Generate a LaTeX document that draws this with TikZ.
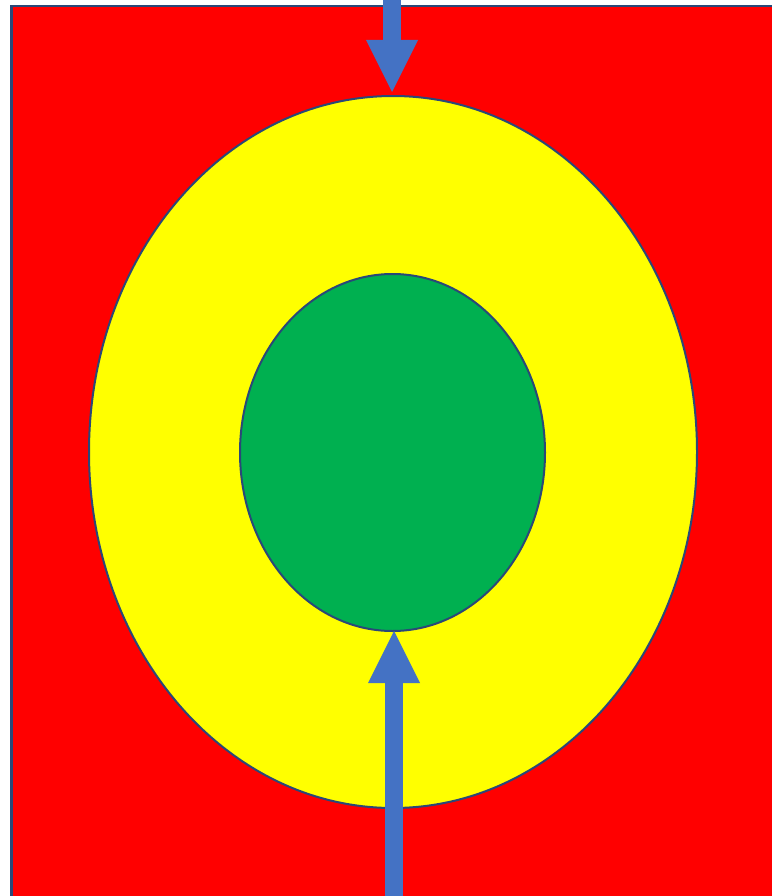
\documentclass[tikz,border=0pt]{standalone}
\usepackage{tikz}
\usetikzlibrary{positioning,arrows.meta,calc,shapes.geometric}
\usepackage{xcolor}

\definecolor{bgred}{HTML}{FF0000}
\definecolor{ringyellow}{HTML}{FFFF00}
\definecolor{coregreen}{HTML}{00B050}
\definecolor{arrowblue}{HTML}{4472C4}
\definecolor{edgeblue}{HTML}{2A4878}

\tikzset{
  layer/.style={ellipse,draw=edgeblue,line width=2pt,inner sep=0pt,outer sep=0pt},
  pusharrow/.style={arrowblue,line width=17.5pt,
    -{Triangle[length=52pt,width=52pt,line width=0pt]}}
}

\begin{document}
\begin{tikzpicture}[x=1pt,y=-1pt]
  \useasboundingbox (0,0) rectangle (772,896);
  % background panel, its frame shows on the left and top only
  \fill[bgred] (11.5,6.2) rectangle (772,896);
  \draw[draw=edgeblue,line width=2.5pt] (11.5,896) -- (11.5,6.2) -- (772,6.2);
  % the two layers
  \node[layer,fill=ringyellow,minimum width=608pt,minimum height=712pt] (outer) at (393,452) {};
  \node[layer,fill=coregreen,minimum width=305pt,minimum height=357pt] (inner) at (392.5,452.5) {};
  % arrows
  \coordinate (topin) at (392,0);
  \coordinate (botin) at (394,896);
  \draw[pusharrow,shorten >=4pt] (topin) -- (topin |- outer.north);
  \draw[pusharrow] (botin) -- (botin |- inner.south);
\end{tikzpicture}
\end{document}
